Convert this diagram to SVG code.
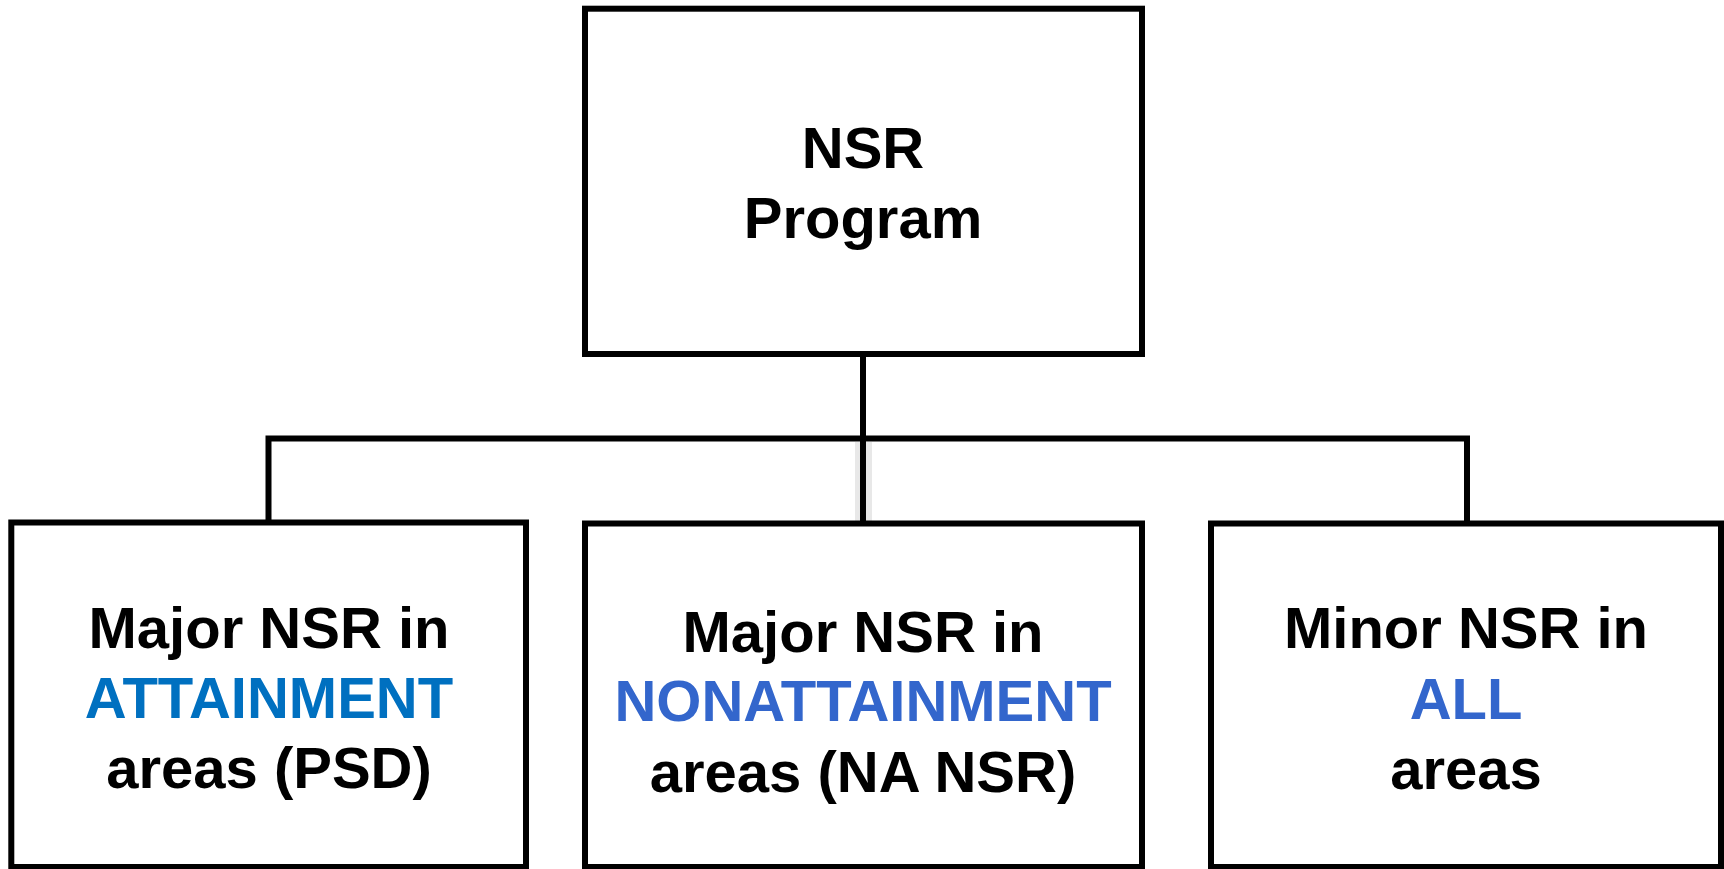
<svg xmlns="http://www.w3.org/2000/svg" width="1724" height="869" viewBox="0 0 1724 869">
<style>
.box{fill:#fff;stroke:#000;stroke-width:6}
.con{fill:none;stroke:#000;stroke-width:6}
text{font-family:"Liberation Sans",Arial,sans-serif;font-weight:bold;font-size:58px;text-anchor:middle;fill:#000}
.b1{fill:#0070C0}
.b2{fill:#3366CC}
</style>
<rect width="1724" height="869" fill="#fff"/>
<g id="connectors">
<rect x="855" y="442" width="17" height="90" fill="#e8e8e8"/>
<path class="con" d="M863 354 V524"/>
<path class="con" d="M268.5 523 V438.5 H1467 V523"/>
</g>
<g id="node-nsr">
<rect class="box" x="585" y="8.7" width="557" height="345.3"/>
<text x="863" y="168">NSR</text>
<text x="863" y="238">Program</text>
</g>
<g id="node-psd">
<rect class="box" x="11.3" y="522.5" width="514.7" height="344.5"/>
<text x="269" y="648">Major NSR in</text>
<text x="269" y="718" class="b1">ATTAINMENT</text>
<text x="269" y="788">areas (PSD)</text>
</g>
<g id="node-nansr">
<rect class="box" x="585" y="523.5" width="557" height="343.5"/>
<text x="863" y="652">Major NSR in</text>
<text x="863" y="721" class="b2">NONATTAINMENT</text>
<text x="863" y="792">areas (NA NSR)</text>
</g>
<g id="node-minor">
<rect class="box" x="1211" y="523.5" width="510" height="343.5"/>
<text x="1466" y="648">Minor NSR in</text>
<text x="1466" y="719" class="b2">ALL</text>
<text x="1466" y="789">areas</text>
</g>
</svg>
